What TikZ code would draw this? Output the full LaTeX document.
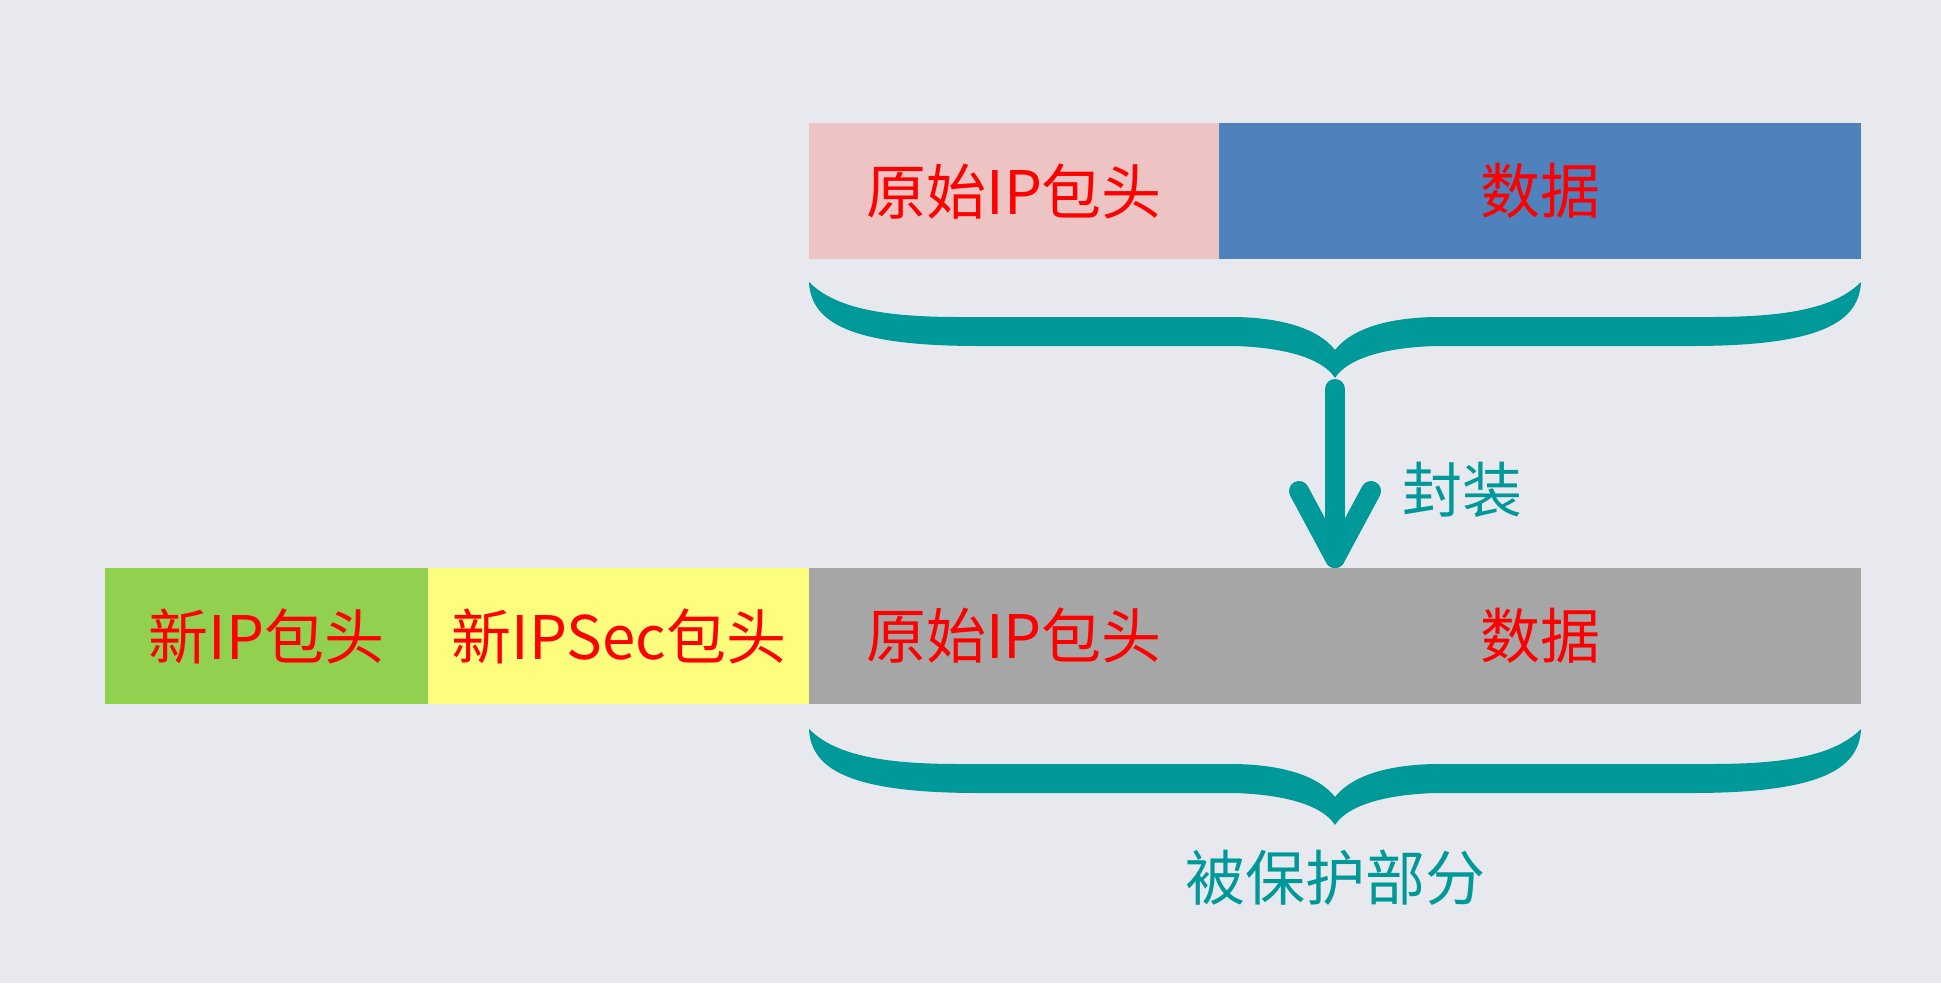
\documentclass[tikz,border=0pt]{standalone}
\usepackage{fontspec}
\setmainfont{Noto Sans CJK SC}
\usetikzlibrary{calc}
\definecolor{bgc}{HTML}{E8E9EE}
\definecolor{pinkc}{HTML}{EDC3C3}
\definecolor{bluec}{HTML}{4F81BD}
\definecolor{greenc}{HTML}{92D050}
\definecolor{yellowc}{HTML}{FDFD7E}
\definecolor{grayc}{HTML}{A6A6A6}
\definecolor{tealc}{HTML}{009999}
\newcommand\tealbrace[1]{%
\fill[bracefill, shift={(0,#1)}] (809,0) .. controls (834,25) and (879,35) .. (959,35) -- (1235,35) .. controls (1290,36) and (1321,50) .. (1335,68) .. controls (1349,50) and (1380,36) .. (1435,35) -- (1711,35) .. controls (1791,35) and (1836,25) .. (1861,0) .. controls (1859,40) and (1821,64) .. (1691,64) -- (1435,64) .. controls (1375,66) and (1345,80) .. (1335,96) .. controls (1325,80) and (1295,66) .. (1235,64) -- (979,64) .. controls (849,64) and (811,40) .. (809,0) -- cycle;}
\begin{document}
\begin{tikzpicture}[x=1pt,y=-1pt,
  field/.style={draw=none, inner sep=0, minimum height=136pt, anchor=north west, text=red, font=\fontsize{60}{72}\selectfont},
  lbl/.style={text=red, font=\fontsize{60}{72}\selectfont, inner sep=0},
  note/.style={text=tealc, font=\fontsize{60}{72}\selectfont, inner sep=0},
  bracefill/.style={fill=tealc},
  arrowline/.style={draw=tealc, line width=20pt, line cap=round, line join=round}]
\useasboundingbox (0,0) rectangle (1941,983);
\fill[bgc] (0,0) rectangle (1941,983);
% top row
\node[field, fill=pinkc, minimum width=410pt] (origA) at (809,123) {原始IP包头};
\node[field, fill=bluec, minimum width=642pt] (dataA) at (1219,123) {数据};
% bottom row
\node[field, fill=greenc, minimum width=323pt] (newip) at (105,568) {新IP包头};
\node[field, fill=yellowc, minimum width=381pt] (ipsec) at (428,568) {新IPSec包头};
\node[field, fill=grayc, minimum width=1052pt] (gray) at (809,568) {};
\node[lbl] (origB) at (1014,636) {原始IP包头};
\node[lbl] (dataB) at (1540,636) {数据};
% braces
\tealbrace{282}
\tealbrace{729}
\coordinate (tip1) at (1335,378);
\coordinate (tip2) at (1335,826);
% arrow
\coordinate (ahead) at ($(gray.north -| tip1)+(0,-10)$);
\draw[arrowline] ($(tip1)+(0,11)$) -- (ahead);
\draw[arrowline] ($(ahead)+(-36,-67)$) -- (ahead) -- ($(ahead)+(36,-67)$);
\node[note] (enc) at (1462,490) {封装};
\node[note] (prot) at ($(tip2)+(0,52)$) {被保护部分};
\end{tikzpicture}
\end{document}
